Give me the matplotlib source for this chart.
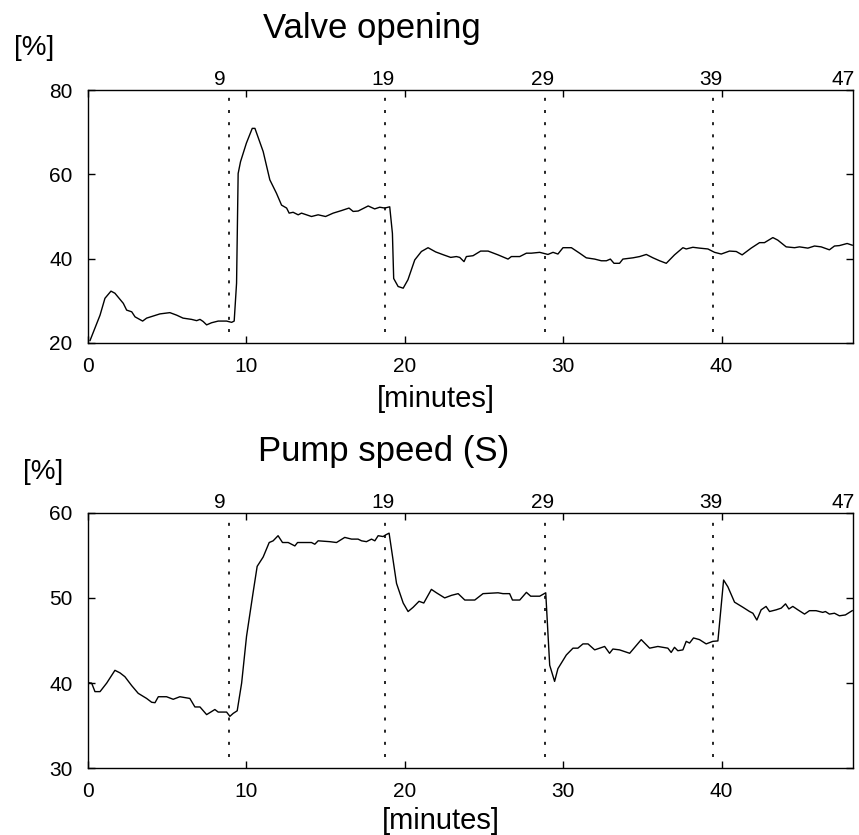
import matplotlib
matplotlib.use("Agg")
import matplotlib.pyplot as plt

plt.rcParams['font.family'] = ['Liberation Sans', 'DejaVu Sans']

# ---------------- data ----------------
valve_t = [0.13, 0.76, 1.07, 1.45, 1.7, 2.23, 2.44, 2.76, 2.97, 3.45, 3.7, 4.12, 4.54, 5.17, 5.6, 6.0,
           6.54, 6.86, 7.07, 7.27, 7.49, 7.8, 8.22, 8.75, 9.07, 9.23, 9.38, 9.48, 9.63, 10.0, 10.37, 10.54,
           11.06, 11.48, 11.9, 12.22, 12.54, 12.7, 12.95, 13.27, 13.48, 14.11, 14.53, 15.0, 15.48, 16.0,
           16.48, 16.74, 17.06, 17.69, 18.1, 18.42, 18.74, 19.05, 19.22, 19.3, 19.58, 19.9, 20.2, 20.63,
           21.05, 21.47, 21.95, 22.45, 22.9, 23.26, 23.47, 23.74, 23.89, 24.31, 24.79, 25.26, 25.89, 26.52,
           26.73, 27.26, 27.68, 27.99, 28.52, 29.04, 29.36, 29.67, 29.99, 30.52, 31.04, 31.46, 31.99, 32.41,
           32.73, 32.98, 33.21, 33.56, 33.77, 34.41, 34.83, 35.25, 35.67, 36.09, 36.51, 37.03, 37.56, 37.77,
           38.19, 38.61, 39.14, 39.56, 39.98, 40.5, 40.93, 41.3, 41.87, 42.4, 42.71, 43.24, 43.55, 44.08,
           44.61, 44.92, 45.45, 45.87, 46.29, 46.81, 47.13, 47.44, 47.93, 48.25]
valve_pct = [20.6, 26.6, 30.6, 32.3, 31.8, 29.4, 27.8, 27.4, 26.2, 25.2, 25.9, 26.4, 26.9, 27.2, 26.6, 25.9,
             25.6, 25.3, 25.6, 25.1, 24.3, 24.8, 25.2, 25.2, 24.9, 25.2, 34.2, 60.2, 63.0, 67.4, 70.9, 70.9,
             65.4, 58.7, 55.5, 52.7, 52.0, 50.8, 51.0, 50.4, 50.8, 50.0, 50.4, 50.0, 50.8, 51.4,
             52.0, 51.2, 51.3, 52.5, 51.8, 52.2, 52.0, 52.3, 46.0, 35.3, 33.4, 33.0, 35.0, 39.7,
             41.7, 42.6, 41.6, 40.9, 40.3, 40.5, 40.3, 39.3, 40.5, 40.7, 41.8, 41.8, 40.9, 39.9,
             40.5, 40.5, 41.3, 41.3, 41.5, 41.0, 41.5, 41.1, 42.6, 42.6, 41.3, 40.2, 39.9, 39.5,
             39.5, 39.9, 38.9, 38.9, 39.9, 40.2, 40.5, 41.0, 40.2, 39.5, 38.9, 40.9, 42.6, 42.3,
             42.7, 42.5, 42.3, 41.5, 41.1, 41.8, 41.7, 40.9, 42.5, 43.8, 43.8, 45.0, 44.4, 42.8,
             42.6, 42.8, 42.5, 43.0, 42.8, 42.1, 43.0, 43.1, 43.6, 43.2]

pump_t = [0.02, 0.23, 0.44, 0.76, 1.18, 1.7, 2.02, 2.33, 2.76, 3.17, 3.7, 4.02, 4.23, 4.44, 4.96, 5.38,
          5.8, 6.43, 6.75, 7.07, 7.49, 8.01, 8.22, 8.75, 8.96, 9.17, 9.42, 9.7, 10.01, 10.43, 10.68, 11.06,
          11.44, 11.69, 12.0, 12.28, 12.64, 13.06, 13.23, 14.11, 14.32, 14.53, 15.27, 15.69, 16.21, 16.64,
          17.05, 17.27, 17.58, 17.9, 18.11, 18.32, 18.63, 18.8, 19.01, 19.48, 19.9, 20.21, 20.53, 20.9,
          21.2, 21.68, 22.0, 22.52, 22.95, 23.37, 23.79, 24.42, 24.94, 25.89, 26.2, 26.62, 26.8, 27.26,
          27.68, 27.95, 28.52, 28.9, 29.15, 29.46, 29.67, 30.2, 30.62, 30.93, 31.25, 31.57, 31.99, 32.62,
          32.93, 33.14, 33.56, 34.2, 34.93, 35.46, 35.98, 36.61, 36.82, 37.03, 37.24, 37.56, 37.77, 37.98,
          38.23, 38.61, 39.03, 39.45, 39.77, 40.13, 40.4, 40.82, 41.35, 41.77, 41.98, 42.23, 42.5, 42.81,
          43.03, 43.45, 43.77, 44.04, 44.25, 44.5, 44.82, 45.24, 45.55, 45.97, 46.39, 46.56, 46.81, 47.13,
          47.44, 47.82, 48.25]
pump_pct = [40.05, 40.0, 39.0, 39.0, 40.0, 41.5, 41.2, 40.75, 39.7, 38.8, 38.2, 37.75, 37.7, 38.4, 38.4, 38.1,
            38.4, 38.2, 37.2, 37.2, 36.3, 36.9, 36.6, 36.6, 36.1, 36.45, 36.75, 40.0, 45.5, 50.7, 53.7, 54.8,
            56.5, 56.7, 57.3, 56.5, 56.5, 56.1, 56.5, 56.5, 56.3, 56.7, 56.6, 56.5, 57.1, 56.9,
            56.9, 56.7, 56.6, 56.9, 56.7, 57.3, 57.2, 57.4, 57.6, 51.7, 49.4, 48.4, 48.9, 49.6,
            49.4, 51.0, 50.6, 50.0, 50.3, 50.5, 49.75, 49.75, 50.5, 50.6, 50.5, 50.5, 49.75, 49.75,
            50.65, 50.2, 50.2, 50.6, 42.1, 40.2, 41.7, 43.3, 44.1, 44.1, 44.6, 44.6, 43.9, 44.3,
            43.5, 44.0, 43.9, 43.5, 45.1, 44.1, 44.3, 44.1, 43.6, 44.2, 43.8, 43.9, 44.9, 44.7,
            45.3, 45.1, 44.6, 44.9, 44.95, 52.1, 51.3, 49.5, 48.9, 48.4, 48.2, 47.4, 48.6, 49.0,
            48.4, 48.6, 48.8, 49.3, 48.7, 49.0, 48.6, 48.1, 48.5, 48.5, 48.3, 48.4, 48.1, 48.2,
            47.9, 48.0, 48.5]

event_x = [8.9, 18.75, 28.85, 39.45]            # dashed event lines (minutes)
event_labels = ['9', '19', '29', '39', '47']
event_label_x = [8.3, 18.65, 28.7, 39.3, 47.65]

titles = ['Valve opening', 'Pump speed (S)']
ylims = [(20, 80), (30, 60)]
yticks = [[20, 40, 60, 80], [30, 40, 50, 60]]
xticks = [0, 10, 20, 30, 40]

# ---------------- figure ----------------
W, H = 859, 835
fig = plt.figure(figsize=(W / 100, H / 100), dpi=100)

def fx(px):
    return px / W

def fy(py):
    return 1 - py / H

# axes rectangles in pixels: (left, top, right, bottom)
rects = [(88, 90, 853, 343), (88, 512.7, 853, 768.3)]
title_pos = [(372, 38.3), (384, 460.7)]
pct_pos = [(33.7, 55), (43.3, 478.5)]
xlabel_pos = [(435.5, 385), (440.5, 806.7)]
vline_span = [(0.043, 0.972), (0.045, 0.971)]

series = [(valve_t, valve_pct), (pump_t, pump_pct)]

for i in range(2):
    l, t, r, b = rects[i]
    ax = fig.add_axes([fx(l), fy(b), fx(r) - fx(l), fy(t) - fy(b)])
    x, y = series[i]
    ax.plot(x, y, color='black', lw=1.0)
    for ex in event_x:
        ax.axvline(ex, ymin=vline_span[i][0], ymax=vline_span[i][1], color='black',
                   lw=1.2, linestyle=(0, (1.8, 5.5)))
    ax.set_xlim(0, 48.3)
    ax.set_ylim(*ylims[i])
    ax.set_xticks(xticks)
    ax.set_yticks(yticks[i])
    ax.tick_params(direction='in', length=5, width=1, top=True, right=True,
                   labelsize=15, color='black')
    ax.tick_params(axis='x', pad=10)
    ax.tick_params(axis='y', pad=11)
    for s in ax.spines.values():
        s.set_linewidth(1.0)
    for lbl, lx in zip(event_labels, event_label_x):
        ax.annotate(lbl, xy=(lx, 1), xycoords=('data', 'axes fraction'),
                    xytext=(0, 3.6), textcoords='offset points',
                    ha='center', va='baseline', fontsize=15)
    fig.text(fx(xlabel_pos[i][0]), fy(xlabel_pos[i][1]), '[minutes]', fontsize=21,
             ha='center', va='top')
    fig.text(fx(title_pos[i][0]), fy(title_pos[i][1]), titles[i], fontsize=25,
             ha='center', va='baseline')
    fig.text(fx(pct_pos[i][0]), fy(pct_pos[i][1]), '[%]', fontsize=20,
             ha='center', va='baseline')

fig.savefig('out.png', dpi=100)
